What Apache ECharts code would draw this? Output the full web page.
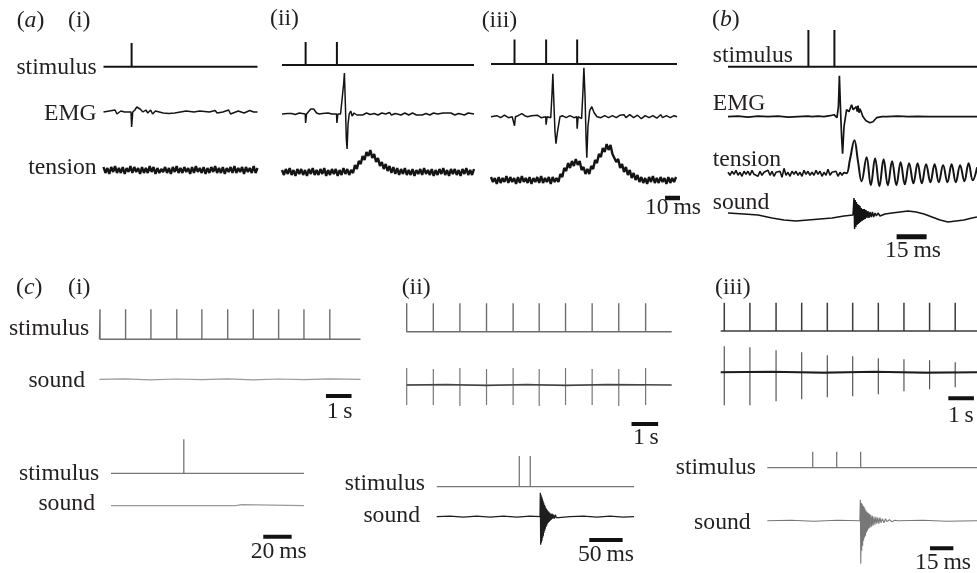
<!DOCTYPE html>
<html>
<head>
<meta charset="utf-8">
<script src="https://cdn.jsdelivr.net/npm/echarts@6/dist/echarts.min.js"></script>
<style>
  html, body { margin: 0; padding: 0; background: #fff; }
  #chart { width: 977px; height: 573px; }
</style>
</head>
<body>
<div id="chart"></div>
<script>
// ---------- data (times in ms, or s for the 1 Hz trains; amplitudes in arbitrary units) ----------
// stimulus pulse times
const stimAi = [14.6];
const stimAii = [12.3, 28.6];
const stimAiii = [12.2, 28.6, 44.7];
const stimB = [40.2, 53.2];
const stimCi = [0.02, 1.02, 2.01, 3.02, 4.0, 5.01, 6.01, 7.0, 7.99, 9.0];
const stimCii = [0, 1.0, 2.0, 3.0, 4.0, 4.98, 5.97, 6.97, 7.97, 8.98];
const stimCiii = [0.14, 1.14, 2.16, 3.16, 4.16, 5.15, 6.15, 7.15, 8.15, 9.15];
const stimCiv = [51.3];
const stimCv = [123.9, 140.4];
const stimCvi = [29.2, 44.6, 60.0];

// EMG traces [t, v]
const emgAi = [[0,0],[3,1],[4,-1],[6,2],[7,-2],[9,1],[11,0],[14.3,0],[14.6,-15],[14.9,-14],[15.2,0],[16.3,2],[17.3,5],[18,6],[19,3],[20.5,0],[22,2],[23,-1],[24.5,2],[25.5,-2],[27,1],[29,0],[31,-1],[34,-1.5],[37,-1],[40,0],[43,1],[44,-1],[47,0],[50,1],[51,-1],[55,0],[58,1.5],[59,-1],[62,0],[65,2],[66,-2],[67,0],[70,1],[73,-1],[76,1.5],[78,0],[80,0]];
const emgAii = [[0,0],[3,0.5],[3.5,-1],[5,0.5],[7,-0.5],[9,1],[10,-0.5],[12.1,0],[12.3,-9],[12.6,-9],[12.8,0],[13.8,1],[15,5],[16.5,5],[18,1],[19.5,0],[21,0.5],[22,-1],[24,1],[26,0],[28.4,0],[28.6,-9],[28.9,-9],[29.1,0],[30.5,0],[31.3,-1],[32.1,30],[32.5,41],[33.0,10],[33.5,-25],[33.9,-35],[34.4,-10],[35,0],[35.8,3],[36.5,-2],[37.5,1],[39,-1],[40,0.5],[42,-1],[44,1],[46,-0.5],[48,0.5],[50,-1],[52,1],[54,0],[56,1.5],[57,-1],[59,0.5],[60,2],[62,-1],[64,1],[66,-1],[68,1],[70,-1],[71,1],[73,-1],[75,0.5],[77,-1],[79,1],[81,0],[84,1],[85,-1],[88,1],[90,-1],[92,0.5],[95,-1],[97,1],[100,0]];
const emgAiii = [[0,0],[3,1],[5,-1],[7,1.5],[9,-1],[11,0],[12.0,0],[12.2,-9],[12.5,-9],[12.7,0],[14,1],[16,3],[17.5,1],[19,0],[21,1],[22,-1],[24,1.5],[26,-1],[27,1],[28.4,0],[28.6,-8],[28.9,-8],[29.1,0],[31,-1],[31.7,25],[32.1,43],[32.6,15],[33.2,-15],[33.7,-27],[34.5,-15],[35.8,0],[37,1],[39,-1],[41,1],[43,-1],[44.5,0],[44.7,-12],[45.0,-12],[45.2,0],[47,-2],[47.7,25],[48.2,49],[48.8,20],[49.3,-20],[49.7,-41],[50.3,-10],[51.2,6],[52.3,10],[53.5,4],[55,0],[57,-1],[59,1],[61,-1],[63,1],[65,-1],[67,1.5],[69,2],[70,-1],[72,2],[74,-1],[76,1.5],[78,-2],[80,1],[82,-1],[84,1],[86,-1.5],[88,2],[89,-1],[91,1],[93,-1],[95,1],[96.5,0]];
const emgB = [[0,0],[5,0.5],[10,-0.5],[15,0.5],[20,0],[25,0.5],[30,-0.5],[35,0],[40,0.5],[41,2],[42,0],[45,0.5],[48,0],[51,1],[53,2],[54.5,-1],[55.2,10],[55.7,41],[56.3,5],[56.8,-20],[57.3,-37],[58,-10],[59.3,7],[60.5,5],[61.8,12],[62.6,7],[63.5,6],[64.2,10],[64.6,5],[65,11],[65.5,4],[66,8],[67.5,0],[69,-4],[71,-6],[72.5,-5],[74.3,-1],[77,0],[79.3,0],[85,0.5],[90,0],[95,0.3],[100,0],[110,0],[124.5,0]];

// tension traces sampled every 1 ms
const tensionAi = [3,-3,2,-4,3,-2,4,-3,2,-3,3,-4,2,-2,4,-3,3,-2,2,-4,3,-3,2,-3,4,-2,3,-4,2,-3,1,-2,3,-3,2,-4,3,-2,4,-3,2,-3,3,-2,2,-4,3,-3,4,-2,2,-3,3,-4,2,-3,3,-2,4,-3,2,-3,3,-4,2,-2,3,-3,4,-3,2,-2,3,-4,3,-2,2,-3,4,-3,2];
const tensionAii = [2,-3,3,-2,4,-3,2,-4,3,-2,3,-3,2,-4,3,-2,4,-3,2,-3,3,-2,4,-4,2,-3,3,-2,3,-4,2,-3,4,-2,3,-3,2,
  -1,7,3,11,8,16,12,20,16,22,14,18,10,14,6,10,3,8,1,6,-1,5,-2,4,-3,
  3,-2,4,-3,2,-3,3,-4,2,-2,3,-3,4,-2,2,-3,3,-4,2,-3,3,-2,4,-3,2,-4,3,-2,3,-3,2,-4,3,-2,4,-3,2,-3,3];
const tensionAiii = [3,-2,2,-4,3,-3,2,-2,4,-3,3,-2,2,-4,3,-3,4,-2,2,-3,3,-4,2,-2,3,-3,4,-3,2,-2,3,-4,3,-2,2,
  -2,6,3,12,9,17,12,19,14,21,15,19,10,13,6,11,6,14,11,20,17,26,23,32,28,36,30,35,26,28,18,21,12,16,8,13,5,10,2,7,0,5,-2,3,
  -3,2,-4,3,-2,4,-3,2,-3,3,-2,2,-4,3,-3,2,-2,3];
const tensionBNoise = [1,-2,2,-1,3,-2,1,-3,2,-1,2,-2,3,-1,1,-3,2,-2,1,-1,3,-2,2,-3,1,-1,2,-4,5,-2,1,-3,2,-1,2,-2,1,-3,3,-1,2,-2,1,-2,3,-1,2,-3,1,-2,4,-2,1,-1,2,-3,1,-2,1];
const tensionBResponse = [[58,1],[59.3,0],[61,14],[63.2,33],[65,12],[66.8,-8],[69.3,16],[71.4,-12],[73.55,15],[75.7,-13],[77.8,14],[79.9,-12],[82.05,12],[84.2,-12],[86.3,11],[88.4,-11],[90.55,10],[92.7,-10],[94.8,10],[96.9,-10],[99.05,9],[101.2,-9],[103.3,9],[105.4,-9],[107.55,8],[109.7,-9],[111.8,9],[113.9,-9],[116.05,8],[118.2,-8],[120.3,10],[122.4,-7],[124.55,6]];

// sound traces
const soundB = [[0,2],[8,1],[15,0],[22,-3],[28,-5],[34,-6],[40,-5],[46,-4],[52,-3],[58,-1],[62.5,0],
  [63,17],[63.3,-14],[63.6,15],[63.9,-12],[64.2,13],[64.5,-10],[64.8,11],[65.1,-9],[65.4,10],[65.7,-8],[66,9],[66.3,-7],[66.6,7],[67,-6],[67.4,6],[67.8,-5],[68.2,6],[68.6,-4],[69,5],[69.5,-3],[70,4],[70.5,-3],[71,3],[71.6,-2],[72.2,3],[72.8,-2],[73.5,2],[74.2,-1],[75,2],[76,-1],[77,1],[78.5,1],
  [82,2],[86,3],[90,4],[94,3],[98,1],[102,-2],[106,-5],[110,-7],[114,-6],[118,-5],[122,-3],[124.5,-2]];
const soundCi = [[0,0],[1,0.5],[2,-0.5],[3,0.3],[4,-0.3],[5,0.5],[6,-0.5],[7,0.3],[8,-0.3],[9,0.4],[10.2,0]];
const soundCii = [[0,0],[1.5,0.5],[3,-0.5],[4.5,0.5],[6,-0.5],[7.5,0.5],[9.96,0]];
const soundCiiUp = [17,16,17,16,17,16,17,16,16,17];
const soundCiiDown = [20,20,21,20,20,21,20,20,21,20];
const soundCiii = [[0,0],[2,0.5],[4,-0.5],[6,0.5],[8,-0.5],[10,0]];
const soundCiiiUp = [26,25,22,20,17,16,14,13,12,10];
const soundCiiiDown = [33,33,29,27,25,24,22,19,17,15];
const soundCiv = [[0,0],[39.5,0],[40,1.5],[40.5,0],[68.5,0],[69,-1.5],[69.5,0],[84,0],[84.5,-2],[85,0],[88,0],[88.5,-2],[89,0],[92,1],[93,0],[136,0]];
const soundCv = [[0,0],[20,0.5],[40,-0.5],[60,0.5],[80,-0.5],[100,0.5],[120,-0.5],[140,0.5],[155,0],
  [155.5,24],[156,-28],[156.5,22],[157,-26],[157.5,20],[158,-24],[158.5,18],[159,-21],[159.5,16],[160,-19],[160.5,14],[161,-16],[161.5,12],[162,-14],[162.5,11],[163,-12],[163.5,9],[164,-10],[164.5,8],[165,-9],[165.5,7],[166,-7],[166.7,6],[167.4,-6],[168.1,5],[168.8,-5],[169.5,4],[170.2,-4],[171,3],[172,-3],[173,3],[174,-2],[175,2],[176.5,-2],[178,2],[179.5,-1],[181,1],[183,-1],[185,0.5],
  [200,0],[220,0.5],[240,-0.5],[260,0.5],[280,-0.5],[296,0]];
const soundCvi = [[0,0],[15,0.5],[30,-0.5],[45,0.5],[59.5,0],
  [59.8,21],[60.1,-43],[60.4,18],[60.7,-30],[61,17],[61.3,-25],[61.6,15],[61.9,-20],[62.2,14],[62.5,-17],[62.8,12],[63.1,-15],[63.4,10],[63.7,-12],[64,9],[64.4,-10],[64.8,8],[65.2,-8],[65.6,7],[66,-7],[66.5,6],[67,-6],[67.5,5],[68,-5],[68.6,4],[69.2,-4],[69.8,4],[70.4,-3],[71,3],[71.7,-3],[72.4,3],[73.1,-2],[74,2],[75,-2],[76,2],[77,-1],[78.5,1],[80,-1],[82,0.5],[84,0],
  [100,0.5],[115,-0.5],[134.8,0]];

// ---------- layout ----------
const P = {
  ai:   { left: 103.5, width: 154,   min: 0, max: 80 },
  aii:  { left: 282,   width: 192,   min: 0, max: 100 },
  aiii: { left: 491,   width: 186,   min: 0, max: 96.5 },
  b:    { left: 728,   width: 249,   min: 0, max: 124.5 },
  ci:   { left: 99.5,  width: 261,   min: 0, max: 10.2 },
  cii:  { left: 406.7, width: 265,   min: 0, max: 9.96 },
  ciii: { left: 720.7, width: 256.3, min: 0, max: 10 },
  civ:  { left: 111,   width: 193,   min: 0, max: 136 },
  cv:   { left: 436.7, width: 197.3, min: 0, max: 296 },
  cvi:  { left: 767.3, width: 209.7, min: 0, max: 134.8 }
};

const grid = [], xAxis = [], yAxis = [], series = [];

// value 0 sits on baseY; one unit spans pxPerUnit pixels; [lo, hi] is the y range of the grid
function addTrace(p, baseY, pxPerUnit, data, color, width, extra, lo, hi) {
  lo = lo === undefined ? -10 : lo;
  hi = hi === undefined ? 10 : hi;
  const i = grid.length;
  grid.push({ left: p.left, width: p.width, top: baseY - hi * pxPerUnit, height: (hi - lo) * pxPerUnit });
  xAxis.push({ gridIndex: i, type: 'value', min: p.min, max: p.max, show: false });
  yAxis.push({ gridIndex: i, type: 'value', min: lo, max: hi, show: false });
  series.push(Object.assign({
    type: 'line', xAxisIndex: i, yAxisIndex: i, data: data,
    showSymbol: false, symbol: 'none', clip: false, silent: true,
    lineStyle: { color: color, width: width }
  }, extra || {}));
}

function pulses(times, p) {
  const d = [[p.min, 0]];
  times.forEach(function (t) { d.push([t, 0], [t, 1], [t, 0]); });
  d.push([p.max, 0]);
  return d;
}
function spikes(times, up, down) {
  const d = [];
  times.forEach(function (t, k) { d.push([t, 0], [t, up[k]], [t, -down[k]], [t, 0]); });
  return d;
}
function sampled(values) {
  return values.map(function (v, i) { return [i, v]; });
}
function stim(p, baseY, h, times, color, width) {
  addTrace(p, baseY, h, pulses(times, p), color, width, null, 0, 1);
}
function scaleBar(p, y, t0, len, w) {
  addTrace(p, y, 1, [[t0, 0], [t0 + len, 0]], '#111', w);
}

const K = '#141414';
// (a)(i)
stim(P.ai, 66.7, 23.7, stimAi, K, 2);
addTrace(P.ai, 112, 1, emgAi, K, 1.5);
addTrace(P.ai, 170, 1, sampled(tensionAi), K, 2.4);
// (a)(ii)
stim(P.aii, 65, 23, stimAii, K, 2);
addTrace(P.aii, 114, 1, emgAii, K, 1.5);
addTrace(P.aii, 172, 1, sampled(tensionAii), K, 2.4);
// (a)(iii)
stim(P.aiii, 64, 24.5, stimAiii, K, 2);
addTrace(P.aiii, 116.7, 1, emgAiii, K, 1.5);
addTrace(P.aiii, 180, 1, sampled(tensionAiii), K, 2.4);
scaleBar(P.aiii, 198, 90.3, 10, 4.5);
// (b)
stim(P.b, 66.7, 36.7, stimB, K, 2);
addTrace(P.b, 116.7, 1, emgB, K, 1.7);
addTrace(P.b, 173.3, 1, sampled(tensionBNoise), K, 1.6);
addTrace(P.b, 173.3, 1, tensionBResponse, K, 2, { smooth: 0.4 });
addTrace(P.b, 215, 1, soundB, K, 1.5);
scaleBar(P.b, 236.7, 84.3, 15, 5);
// (c)(i)
stim(P.ci, 339.3, 30, stimCi, '#6e6e6e', 1.4);
addTrace(P.ci, 379.3, 1, soundCi, '#9a9a9a', 1.2);
scaleBar(P.ci, 396, 8.85, 1, 4);
// (c)(ii)
stim(P.cii, 331.7, 28.4, stimCii, '#6e6e6e', 1.4);
addTrace(P.cii, 385, 1, spikes(stimCii, soundCiiUp, soundCiiDown), '#777', 1.2);
addTrace(P.cii, 385, 1, soundCii, '#444', 1.6);
scaleBar(P.cii, 424, 8.45, 1, 4);
// (c)(iii)
stim(P.ciii, 331, 28.3, stimCiii, '#3c3c3c', 1.5);
addTrace(P.ciii, 372.3, 1, spikes(stimCiii, soundCiiiUp, soundCiiiDown), '#555', 1.2);
addTrace(P.ciii, 372.3, 1, soundCiii, '#1e1e1e', 2);
scaleBar(P.ciii, 398.3, 8.88, 1, 4);
// (c) lower row
stim(P.civ, 473.3, 34, stimCiv, '#777', 1.3);
addTrace(P.civ, 505.7, 1, soundCiv, '#999', 1.2);
scaleBar(P.civ, 536.7, 107.3, 20, 4);
stim(P.cv, 486.7, 30.7, stimCv, '#777', 1.3);
addTrace(P.cv, 516.7, 1, soundCv, '#1e1e1e', 1.3);
scaleBar(P.cv, 540, 228.9, 50, 4);
stim(P.cvi, 467.7, 16, stimCvi, '#777', 1.3);
addTrace(P.cvi, 520.7, 1, soundCvi, '#777', 1.1);
scaleBar(P.cvi, 548.3, 104.6, 15, 4);

// ---------- text ----------
const FONT = '"Liberation Serif", "Times New Roman", serif';
const FS = 23;
function txt(text, x, base, align) {
  return {
    type: 'text', x: x, y: base - 6, scaleX: 1.03, silent: true,
    style: { text: text, fill: '#231f20', fontFamily: FONT, fontSize: FS, align: align || 'left', verticalAlign: 'middle' }
  };
}
function tag(letter, x, base) {
  return {
    type: 'text', x: x, y: base - 6, scaleX: 1.03, silent: true,
    style: {
      text: '{n|(}{i|' + letter + '}{n|)}', fill: '#231f20', fontFamily: FONT, fontSize: FS, verticalAlign: 'middle',
      rich: {
        n: { fontFamily: FONT, fontSize: FS, fill: '#231f20' },
        i: { fontFamily: FONT, fontSize: FS, fontStyle: 'italic', fill: '#231f20' }
      }
    }
  };
}

const graphic = [
  tag('a', 16.7, 27), txt('(i)', 68, 27), txt('(ii)', 270, 25), txt('(iii)', 481.7, 26.5), tag('b', 712, 26),
  txt('stimulus', 96.7, 74, 'right'), txt('EMG', 96.7, 120, 'right'), txt('tension', 96.7, 174, 'right'),
  txt('10\u2009ms', 645, 214),
  txt('stimulus', 712.7, 62), txt('EMG', 712.7, 110), txt('tension', 712.7, 165.7), txt('sound', 712.7, 209.3),
  txt('15\u2009ms', 885, 257),
  tag('c', 16, 294), txt('(i)', 68, 294), txt('(ii)', 401.7, 294), txt('(iii)', 715, 294),
  txt('stimulus', 89.3, 335, 'right'), txt('sound', 85, 387.3, 'right'),
  txt('1\u2009s', 326.7, 417.5), txt('1\u2009s', 633, 443.5), txt('1\u2009s', 948, 421.5),
  txt('stimulus', 99.3, 480, 'right'), txt('sound', 95, 510, 'right'), txt('20\u2009ms', 250.7, 558),
  txt('stimulus', 425, 490, 'right'), txt('sound', 420, 521.7, 'right'), txt('50\u2009ms', 578, 561),
  txt('stimulus', 756, 474, 'right'), txt('sound', 750.7, 529.3, 'right'), txt('15\u2009ms', 915, 569)
];

const chart = echarts.init(document.getElementById('chart'), null, { renderer: 'canvas' });
chart.setOption({
  animation: false,
  backgroundColor: '#fff',
  grid: grid,
  xAxis: xAxis,
  yAxis: yAxis,
  series: series,
  graphic: graphic
});
</script>
</body>
</html>
